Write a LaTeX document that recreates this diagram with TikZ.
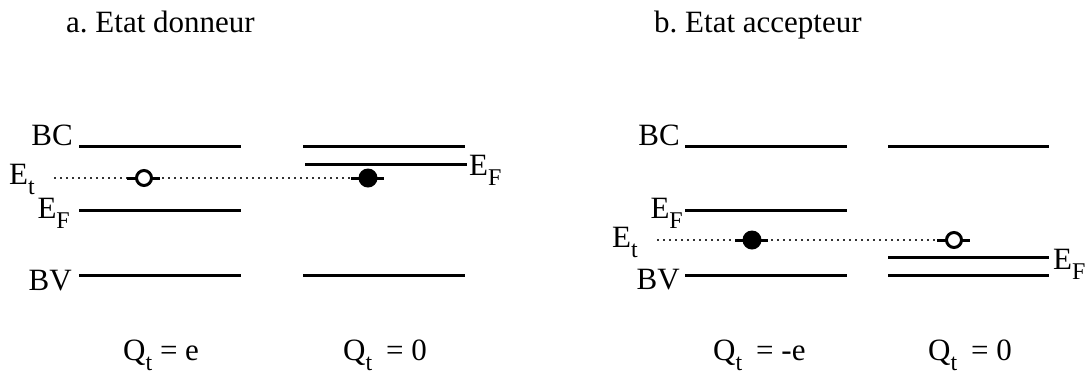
\documentclass[tikz,border=0pt]{standalone}
\usepackage{fontspec}
\setmainfont{Liberation Serif}
\frenchspacing
\newcommand{\lvsub}[1]{\raisebox{-0.33em}{\fontsize{24}{24}\selectfont #1}}
\tikzset{
  level/.style={line width=3pt},
  trap/.style={dash pattern=on 2pt off 4pt, line width=1.2pt, black!80},
  bar/.style={line width=3pt},
  lbl/.style={inner sep=0pt},
  holeState/.style={circle, draw, line width=3pt, fill=white, minimum size=15pt, inner sep=0pt},
  fullState/.style={circle, fill=black, minimum size=19pt, inner sep=0pt},
}
\begin{document}
\begin{tikzpicture}[x=1pt, y=-1pt, font=\fontsize{31}{37}\selectfont]
    \useasboundingbox (0,0) rectangle (1086,376);
    % titles
    \node[lbl, anchor=base west] (titleA) at (66,32) {a. Etat donneur};
    \node[lbl, anchor=base west] (titleB) at (654,32) {b. Etat accepteur};
    % band levels
    \foreach \xa/\xb/\y in {79/241/146, 303/465/146, 305/467/164, 79/241/210, 79/241/275, 303/465/275,
                            685/847/146, 888/1049/146, 685/847/210, 888/1049/257, 685/847/275, 888/1049/275} {
        \draw[level] (\xa,\y) -- (\xb,\y);
    }
    % level labels
    \node[lbl, anchor=base east] (bcA) at (73,145) {BC};
    \node[lbl, anchor=base east] (efA) at (70,218) {E\lvsub{F}};
    \node[lbl, anchor=base east] (bvA) at (72,290) {BV};
    \node[lbl, anchor=base west] (efA2) at (469,175) {E\lvsub{F}};
    \node[lbl, anchor=base east] (bcB) at (680,145) {BC};
    \node[lbl, anchor=base east] (efB) at (683,218) {E\lvsub{F}};
    \node[lbl, anchor=base east] (bvB) at (680,289) {BV};
    \node[lbl, anchor=base west] (efB2) at (1053,269) {E\lvsub{F}};
    % trap level, donor
    \node[lbl, anchor=base west] (etA) at (9,184) {E\lvsub{t}};
    \coordinate (trapA1) at (144,178);
    \coordinate (trapA2) at (368,178);
    \draw[trap] ([xshift=19pt]etA.east |- trapA1) -- ([xshift=-16pt]trapA2);
    \foreach \c in {trapA1, trapA2}
        \draw[bar] ([xshift=-17pt]\c) -- ([xshift=16pt]\c);
    \node[holeState] (holeA) at (trapA1) {};
    \node[fullState] (elecA) at (trapA2) {};
    % trap level, acceptor
    \node[lbl, anchor=base west] (etB) at (612,247) {E\lvsub{t}};
    \coordinate (trapB1) at (752,240);
    \coordinate (trapB2) at (954,240);
    \draw[trap] ([xshift=19pt]etB.east |- trapB1) -- ([xshift=-17pt]trapB2);
    \foreach \c in {trapB1, trapB2}
        \draw[bar] ([xshift=-17pt]\c) -- ([xshift=16pt]\c);
    \node[fullState] (elecB) at (trapB1) {};
    \node[holeState] (holeB) at (trapB2) {};
    % charges
    \node[lbl, anchor=base west] (qA1) at (123,360) {Q\lvsub{t} = e};
    \node[lbl, anchor=base west] (qA2) at (343,360) {Q\lvsub{t}\hspace{0.2em} = 0};
    \node[lbl, anchor=base west] (qB1) at (713,360) {Q\lvsub{t}\hspace{0.2em} = -e};
    \node[lbl, anchor=base west] (qB2) at (928,360) {Q\lvsub{t}\hspace{0.2em} = 0};
\end{tikzpicture}
\end{document}
